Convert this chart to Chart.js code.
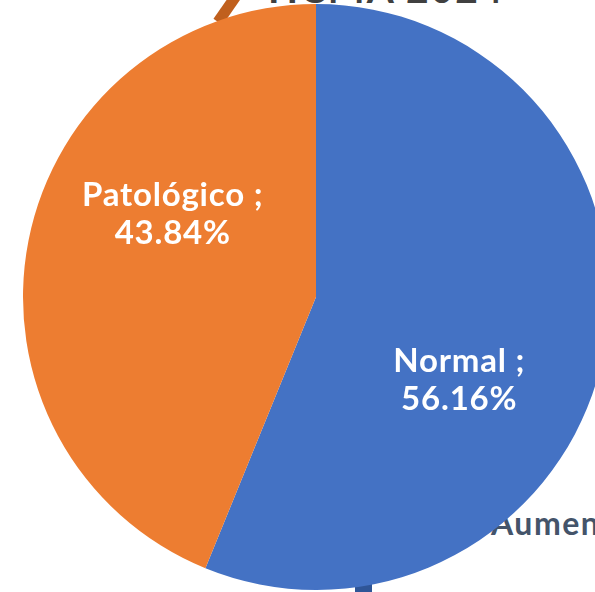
<!DOCTYPE html>
<html>
<head>
<meta charset="utf-8">
<script src="https://cdn.jsdelivr.net/npm/chart.js@4"></script>
<style>
  html, body { margin: 0; padding: 0; background: #fff; overflow: hidden; }
  body { width: 595px; height: 592px; position: relative; font-family: Lato, sans-serif; }
  #wrap { position: absolute; left: 0; top: 0; width: 632px; height: 594px; z-index: 2; }
  .txt { position: absolute; font-weight: 700; white-space: nowrap; z-index: 1; }
  #title { left: 268px; top: -35px; font-size: 39px; color: #404040; letter-spacing: 2px; }
  #aumen { left: 491px; top: 503px; font-size: 32px; color: #44546A; letter-spacing: 1.5px; }
</style>
</head>
<body>
<div id="title" class="txt">HCMA 2024</div>
<div id="aumen" class="txt">Aumentado</div>
<div id="wrap"><canvas id="chart"></canvas></div>
<script>
'use strict';

const labels = ['Normal', 'Patológico'];
const percents = [56.16, 43.84];
const colors = ['#4472C4', '#ED7D31'];

// slice labels drawn in white on top of each slice, like the original
const sliceLabels = {
  id: 'sliceLabels',
  afterDatasetsDraw(chart) {
    const ctx = chart.ctx;
    const meta = chart.getDatasetMeta(0);
    ctx.save();
    ctx.fillStyle = '#fff';
    ctx.font = 'bold 33px Lato';
    ctx.letterSpacing = '0.8px';
    ctx.textAlign = 'center';
    ctx.textBaseline = 'middle';
    meta.data.forEach((arc, i) => {
      const p = arc.getProps(['x', 'y', 'startAngle', 'endAngle', 'outerRadius'], true);
      const mid = (p.startAngle + p.endAngle) / 2 + 19 * Math.PI / 180;
      const r = p.outerRadius * 0.565;
      const cx = p.x + Math.cos(mid) * r;
      const cy = p.y + Math.sin(mid) * r;
      ctx.fillText(labels[i] + ' ;', cx, cy - 19);
      ctx.fillText(percents[i].toFixed(2) + '%', cx, cy + 19);
    });
    ctx.restore();
  }
};

// bits of other slide shapes that show behind the pie
const backShapes = {
  id: 'backShapes',
  beforeDatasetsDraw(chart) {
    const ctx = chart.ctx;
    ctx.save();
    ctx.strokeStyle = '#C0601E';
    ctx.lineWidth = 11;
    ctx.beginPath();
    ctx.moveTo(218, 22);
    ctx.lineTo(236, -4);
    ctx.stroke();
    ctx.fillStyle = '#2F5597';
    ctx.fillRect(355, 578, 17, 20);
    ctx.restore();
  }
};

new Chart(document.getElementById('chart'), {
  type: 'pie',
  data: {
    labels: labels,
    datasets: [{
      data: percents,
      backgroundColor: colors,
      borderWidth: 0,
    }],
  },
  options: {
    responsive: true,
    maintainAspectRatio: false,
    animation: false,
    layout: { padding: 4 },
    plugins: {
      legend: { display: false },
      tooltip: { enabled: false },
    },
  },
  plugins: [backShapes, sliceLabels],
});
</script>
</body>
</html>
